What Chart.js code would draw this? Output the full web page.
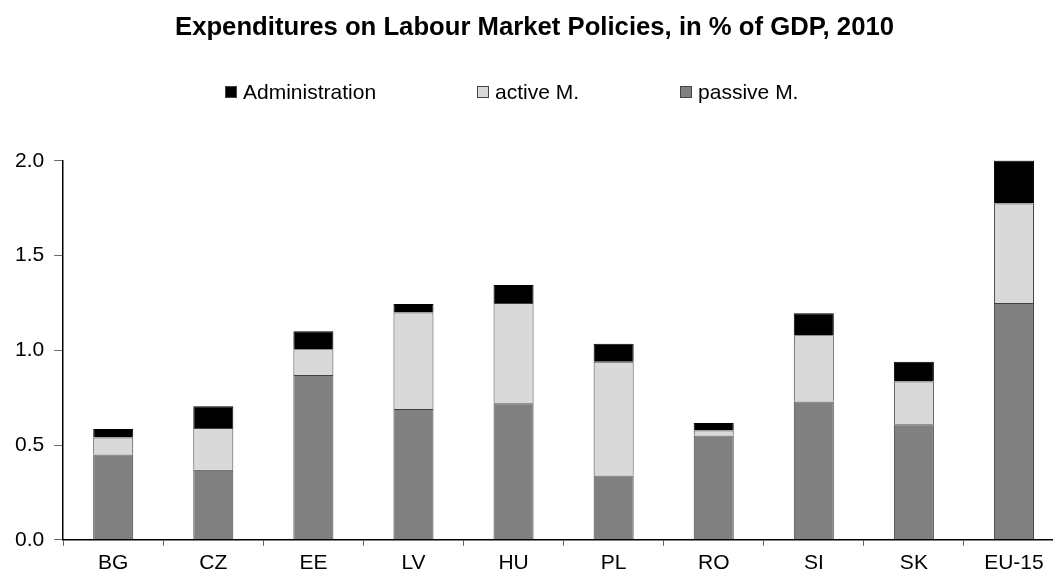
<!DOCTYPE html>
<html>
<head>
<meta charset="utf-8">
<script src="https://cdn.jsdelivr.net/npm/chart.js@4"></script>
<style>
  html, body { margin: 0; padding: 0; background: #fff; overflow: hidden; }
  #wrap { position: relative; width: 1070px; height: 581px; }
  #legend {
    position: absolute; left: 225px; top: 80px;
    display: flex; align-items: center;
    font: 21px "Liberation Sans", Arial, sans-serif; color: #000;
  }
  .item { display: flex; align-items: center; margin-right: 101px; white-space: nowrap; }
  .swatch { width: 10px; height: 10px; border: 1px solid #444; margin-right: 6px; }
</style>
</head>
<body>
<div id="wrap">
  <canvas id="chart-lmp"></canvas>
  <div id="legend"></div>
</div>
<script>
// Expenditures on labour market policies, % of GDP, 2010
const countries = ['BG', 'CZ', 'EE', 'LV', 'HU', 'PL', 'RO', 'SI', 'SK', 'EU-15'];
const passiveM = [0.45, 0.37, 0.87, 0.69, 0.72, 0.34, 0.55, 0.73, 0.61, 1.25];
const activeM = [0.09, 0.22, 0.135, 0.51, 0.53, 0.60, 0.027, 0.35, 0.225, 0.525];
const administration = [0.045, 0.115, 0.095, 0.045, 0.095, 0.095, 0.04, 0.115, 0.105, 0.228];
const yTicks = [0, 0.5, 1.0, 1.5, 2.0];

Chart.defaults.font.family = '"Liberation Sans", Arial, sans-serif';
Chart.defaults.color = '#000';

const ctx = document.getElementById('chart-lmp');

const chart = new Chart(ctx, {
    type: 'bar',
    data: {
        labels: countries,
        datasets: [
            {
                label: 'passive M.',
                data: passiveM,
                backgroundColor: '#808080',
                borderColor: '#404040',
                borderWidth: 1
            },
            {
                label: 'active M.',
                data: activeM,
                backgroundColor: '#d9d9d9',
                borderColor: '#404040',
                borderWidth: 1
            },
            {
                label: 'Administration',
                data: administration,
                backgroundColor: '#000',
                borderColor: '#000',
                borderWidth: 1
            }
        ]
    },
    options: {
        responsive: true,
        maintainAspectRatio: false,
        animation: false,
        layout: { padding: { left: 5, right: 6, top: 0, bottom: 0 } },
        datasets: { bar: { categoryPercentage: 1, barPercentage: 0.4 } },
        plugins: {
            title: {
                display: true,
                text: 'Expenditures on Labour Market Policies, in % of GDP, 2010',
                font: { size: 25.7, weight: 'bold' },
                padding: { top: 12, bottom: 118 }
            },
            legend: { display: false },
            tooltip: { enabled: false }
        },
        scales: {
            x: {
                stacked: true,
                grid: { display: true, drawOnChartArea: false, drawTicks: true, tickLength: 6, offset: true, tickColor: '#666' },
                border: { color: '#000', width: 1.5 },
                ticks: { font: { size: 21 }, padding: 5 }
            },
            y: {
                stacked: true,
                min: 0,
                max: 2.0,
                afterBuildTicks: axis => { axis.ticks = yTicks.map(v => ({ value: v })); },
                grid: { display: true, drawOnChartArea: false, drawTicks: true, tickLength: 9, tickColor: '#666' },
                border: { color: '#000', width: 1.5 },
                ticks: {
                    font: { size: 21 },
                    padding: 10,
                    callback: v => Number(v).toFixed(1)
                }
            }
        }
    }
});

// legend in the original order: Administration, active M., passive M.
const legendEl = document.getElementById('legend');
chart.data.datasets.slice().reverse().forEach(ds => {
    const item = document.createElement('div');
    item.className = 'item';
    const sw = document.createElement('span');
    sw.className = 'swatch';
    sw.style.background = ds.backgroundColor;
    const txt = document.createElement('span');
    txt.textContent = ds.label;
    item.appendChild(sw);
    item.appendChild(txt);
    legendEl.appendChild(item);
});
</script>
</body>
</html>
